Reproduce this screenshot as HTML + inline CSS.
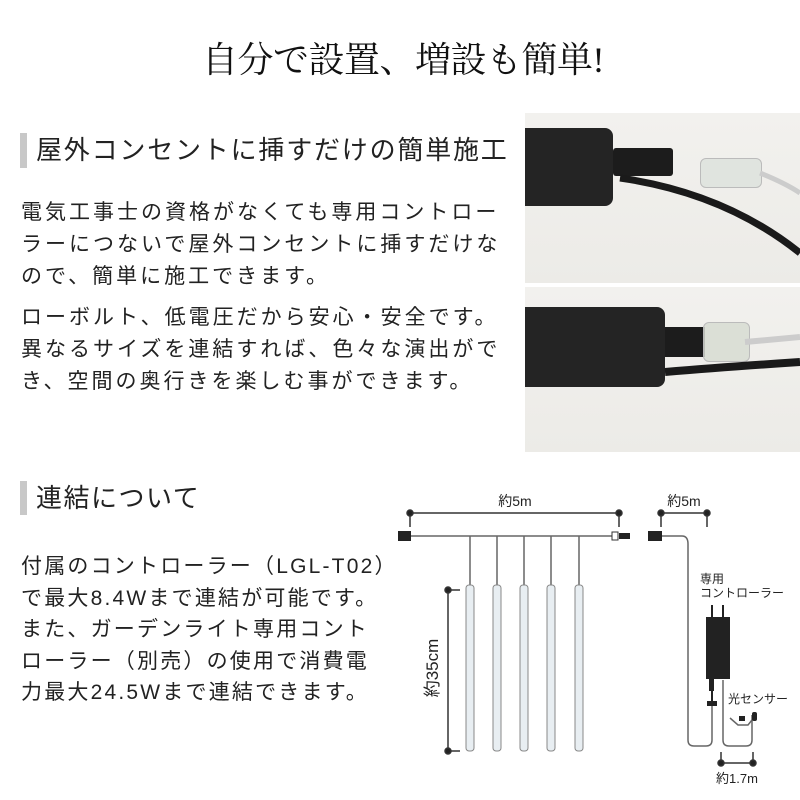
<!DOCTYPE html>
<html><head><meta charset="utf-8"><style>
body{margin:0;width:800px;height:800px;background:#fff;position:relative;overflow:hidden;font-family:"Liberation Sans","Noto Sans CJK JP",sans-serif;color:#222}
.t{position:absolute;white-space:nowrap}
.title{left:202px;top:38px;font-family:"Liberation Serif","Noto Serif CJK SC",serif;font-size:36px;line-height:44px;letter-spacing:-0.5px;color:#111}
.bar{position:absolute;left:20px;width:7px;background:#c8c8c8}
.h{font-size:26px;line-height:36px;letter-spacing:1.8px;color:#222}
.p{font-size:21px;line-height:32px;letter-spacing:3px}
.p2{font-size:21px;line-height:31.5px;letter-spacing:2.2px}
</style></head><body>
<div class="t title">自分で設置、増設も簡単!</div>
<div class="bar" style="top:133px;height:35px"></div>
<div class="t h" style="left:36px;top:132px">屋外コンセントに挿すだけの簡単施工</div>
<div class="t p" style="left:21px;top:197px">電気工事士の資格がなくても専用コントロー<br>ラーにつないで屋外コンセントに挿すだけな<br>ので、簡単に施工できます。</div>
<div class="t p" style="left:21px;top:302px">ローボルト、低電圧だから安心・安全です。<br>異なるサイズを連結すれば、色々な演出がで<br>き、空間の奥行きを楽しむ事ができます。</div>
<div style="position:absolute;left:525px;top:113px;width:275px;height:170px;background:linear-gradient(180deg,#f2f1ee,#ecebe7)">
 <div style="position:absolute;left:0;top:15px;width:88px;height:78px;background:#242424;border-radius:0 8px 8px 0"></div>
 <div style="position:absolute;left:88px;top:35px;width:60px;height:28px;background:#1c1c1c;border-radius:3px"></div>
 <div style="position:absolute;left:175px;top:45px;width:60px;height:28px;background:rgba(220,225,220,.8);border:1px solid #bbb;border-radius:6px"></div>
 <svg width="275" height="170" style="position:absolute;left:0;top:0"><path d="M95 65 Q200 80 275 140" stroke="#1a1a1a" stroke-width="7" fill="none"/><path d="M235 60 Q260 70 275 80" stroke="#ccc" stroke-width="5" fill="none"/></svg>
</div>
<div style="position:absolute;left:525px;top:287px;width:275px;height:165px;background:linear-gradient(180deg,#f2f1ee,#ecebe7)">
 <div style="position:absolute;left:0;top:20px;width:140px;height:80px;background:#242424;border-radius:0 8px 8px 0"></div>
 <div style="position:absolute;left:140px;top:40px;width:40px;height:30px;background:#1c1c1c"></div>
 <div style="position:absolute;left:178px;top:35px;width:45px;height:38px;background:rgba(215,220,210,.85);border:1px solid #bbb;border-radius:6px"></div>
 <svg width="275" height="165" style="position:absolute;left:0;top:0"><path d="M140 85 Q200 80 275 75" stroke="#1a1a1a" stroke-width="8" fill="none"/><path d="M220 55 L275 50" stroke="#ccc" stroke-width="6" fill="none"/></svg>
</div>
<div class="bar" style="top:481px;height:34px"></div>
<div class="t h" style="left:36px;top:480px;letter-spacing:1.5px">連結について</div>
<div class="t p2" style="left:21px;top:551px">付属のコントローラー（LGL-T02）<br>で最大8.4Wまで連結が可能です。<br>また、ガーデンライト専用コント<br>ローラー（別売）の使用で消費電<br>力最大24.5Wまで連結できます。</div>
<svg width="800" height="800" style="position:absolute;left:0;top:0" font-family="Liberation Sans,Noto Sans CJK JP,sans-serif">
<g stroke="#333" stroke-width="1.5" fill="#222">
<line x1="410" y1="513" x2="619" y2="513"/><line x1="410" y1="513" x2="410" y2="527"/><line x1="619" y1="513" x2="619" y2="527"/>
<circle cx="410" cy="513" r="3"/><circle cx="619" cy="513" r="3"/>
<line x1="661" y1="513" x2="707" y2="513"/><line x1="661" y1="513" x2="661" y2="527"/><line x1="707" y1="513" x2="707" y2="527"/>
<circle cx="661" cy="513" r="3"/><circle cx="707" cy="513" r="3"/>
<line x1="448" y1="590" x2="448" y2="751"/><line x1="448" y1="590" x2="460" y2="590"/><line x1="448" y1="751" x2="460" y2="751"/>
<circle cx="448" cy="590" r="3"/><circle cx="448" cy="751" r="3"/>
<line x1="721" y1="763" x2="753" y2="763"/><line x1="721" y1="752" x2="721" y2="763"/><line x1="753" y1="752" x2="753" y2="763"/>
<circle cx="721" cy="763" r="3"/><circle cx="753" cy="763" r="3"/>
</g>
<g stroke="#666" stroke-width="1.5" fill="none">
<line x1="410" y1="536" x2="612" y2="536"/>
<line x1="470" y1="536" x2="470" y2="588"/><line x1="497" y1="536" x2="497" y2="588"/><line x1="524" y1="536" x2="524" y2="588"/><line x1="551" y1="536" x2="551" y2="588"/><line x1="579" y1="536" x2="579" y2="588"/>
<path d="M662 536 L682 536 Q688 536 688 544 L688 740 Q688 746 694 746 L706 746 Q712 746 712 740 L712 680"/>
<path d="M723 680 L723 740 Q723 746 729 746 L746 746 Q752 746 752 740 L752 715"/>
<path d="M752 720 L748 725 L738 725 L730 718"/>
</g>
<rect x="398" y="531" width="13" height="10" fill="#222"/>
<rect x="612" y="532" width="6" height="8" fill="none" stroke="#333"/>
<rect x="619" y="533" width="11" height="6" fill="#222"/>
<rect x="648" y="531" width="14" height="10" fill="#222"/>
<g fill="#e8eef2" stroke="#888" stroke-width="1">
<rect x="466" y="585" width="8" height="166" rx="3"/><rect x="493" y="585" width="8" height="166" rx="3"/><rect x="520" y="585" width="8" height="166" rx="3"/><rect x="547" y="585" width="8" height="166" rx="3"/><rect x="575" y="585" width="8" height="166" rx="3"/>
</g>
<g fill="#222">
<rect x="711" y="605" width="2" height="15"/><rect x="722" y="605" width="2" height="15"/>
<rect x="706" y="617" width="24" height="62"/>
<rect x="709" y="679" width="5" height="12"/><rect x="711" y="690" width="2" height="12"/>
<rect x="707" y="701" width="10" height="5"/>
<rect x="739" y="716" width="6" height="5"/><rect x="752" y="712" width="5" height="9" rx="2"/>
</g>
<g font-size="13" fill="#222">
<text x="515" y="506" text-anchor="middle" font-size="14">約5m</text>
<text x="684" y="506" text-anchor="middle" font-size="14">約5m</text>
<text x="700" y="583" font-size="12">専用</text>
<text x="700" y="597" font-size="12">コントローラー</text>
<text x="728" y="703" font-size="12">光センサー</text>
<text x="737" y="783" text-anchor="middle" font-size="13">約1.7m</text>
<text transform="translate(438,668) rotate(-90)" text-anchor="middle" font-size="17">約35cm</text>
</g>
</svg>
</body></html>
